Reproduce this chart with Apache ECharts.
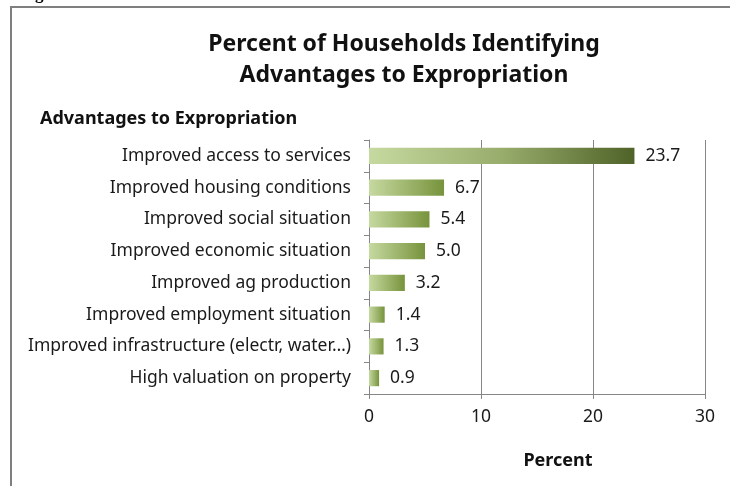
<!DOCTYPE html>
<html>
<head>
<meta charset="utf-8">
<script src="https://cdn.jsdelivr.net/npm/echarts@6/dist/echarts.min.js"></script>
<style>
html,body{margin:0;padding:0;background:#fff;}
#main{width:730px;height:486px;}
</style>
</head>
<body>
<div id="main"></div>
<script>
var categories = [
  'Improved access to services',
  'Improved housing conditions',
  'Improved social situation',
  'Improved economic situation',
  'Improved ag production',
  'Improved employment situation',
  'Improved infrastructure (electr, water\u2026)',
  'High valuation on property'
];
var values = [23.7, 6.7, 5.4, 5.0, 3.2, 1.4, 1.3, 0.9];
var xTicks = [0, 10, 20, 30];

var FONT = '"Noto Sans", "Open Sans", sans-serif';
var chart = echarts.init(document.getElementById('main'));

function barColor(v) {
  var stops = v > 10
    ? [{offset: 0, color: '#c6d9a0'}, {offset: 0.5, color: '#98ad6c'}, {offset: 1, color: '#4f6228'}]
    : [{offset: 0, color: '#c6d9a0'}, {offset: 1, color: '#77933c'}];
  return new echarts.graphic.LinearGradient(0, 0, 1, 0, stops);
}

chart.setOption({
  backgroundColor: '#ffffff',
  animation: false,
  graphic: [
    {type: 'rect', shape: {x: 11, y: 7, width: 740, height: 500},
     style: {fill: 'none', stroke: '#7f7f7f', lineWidth: 2}},
    {type: 'text', left: 20, top: -14,
     style: {text: 'Figure 33', font: 'bold 17px "Liberation Serif", serif', fill: '#000'}},
    {type: 'text', left: 40, top: 110,
     style: {text: 'Advantages to Expropriation', font: 'bold 18px ' + FONT, fill: '#111'}},
    {type: 'text', x: 558, y: 461,
     style: {text: 'Percent', font: 'bold 18px ' + FONT, fill: '#111', align: 'center', verticalAlign: 'middle'}}
  ],
  title: {
    text: 'Percent of Households Identifying\nAdvantages to Expropriation',
    left: 399, top: 24, textAlign: 'center',
    textStyle: {fontFamily: FONT, fontWeight: 'bold', fontSize: 23, lineHeight: 31, color: '#111'}
  },
  grid: {left: 369, right: 25, top: 140, bottom: 92, containLabel: false},
  xAxis: {
    type: 'value', min: 0, max: 30, interval: 10,
    axisLine: {show: true, lineStyle: {color: '#868686', width: 1}},
    axisTick: {show: true, length: 5, lineStyle: {color: '#868686'}},
    axisLabel: {fontFamily: FONT, fontSize: 17.5, color: '#1a1a1a', margin: 14,
      formatter: function (v) { return xTicks.indexOf(v) >= 0 ? String(v) : ''; }},
    splitLine: {show: true, lineStyle: {color: '#868686', width: 1}}
  },
  yAxis: {
    type: 'category', data: categories, inverse: true,
    axisLine: {show: true, lineStyle: {color: '#868686', width: 1}},
    axisTick: {show: true, length: 5, lineStyle: {color: '#868686'}},
    axisLabel: {fontFamily: FONT, fontSize: 17.5, color: '#1a1a1a', margin: 18}
  },
  series: [{
    type: 'bar', data: values, barWidth: '51%',
    itemStyle: {color: function (p) { return barColor(p.value); }},
    label: {show: true, position: 'right', distance: 11,
      fontFamily: FONT, fontSize: 17.5, color: '#1a1a1a',
      formatter: function (p) { return p.value.toFixed(1); }}
  }]
});
</script>
</body>
</html>
